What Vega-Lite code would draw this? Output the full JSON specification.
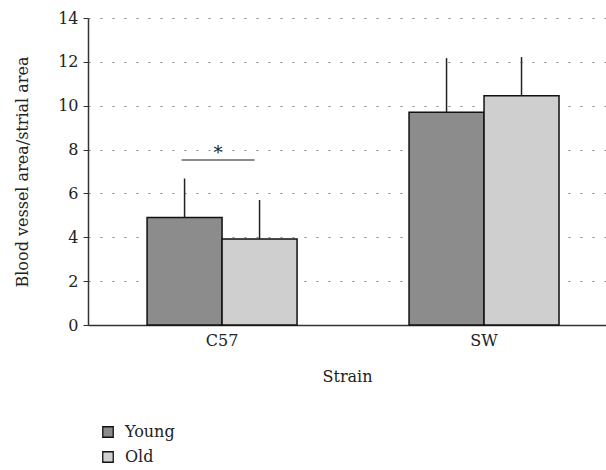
{
  "$schema": "https://vega.github.io/schema/vega-lite/v6.json",
  "autosize": "none",
  "width": 518,
  "height": 307,
  "padding": {"left": 88, "top": 18, "right": 0, "bottom": 145},
  "background": "white",
  "config": {
    "view": {"stroke": null},
    "font": "DejaVu Serif"
  },
  "datasets": {
    "bars": [
      {"strain": "C57", "age": "Young", "mean": 4.9, "upper": 6.68},
      {"strain": "C57", "age": "Old", "mean": 3.92, "upper": 5.7},
      {"strain": "SW", "age": "Young", "mean": 9.7, "upper": 12.17},
      {"strain": "SW", "age": "Old", "mean": 10.45, "upper": 12.22}
    ],
    "sig": [
      {"strain": "C57", "line": 7.52, "star": 7.8, "label": "*"}
    ]
  },
  "layer": [
    {
      "data": {"name": "bars"},
      "mark": {"type": "bar", "stroke": "#111", "strokeWidth": 1.5},
      "encoding": {
        "x": {"field": "strain", "type": "nominal", "title": "Strain",
              "scale": {"domain": ["C57", "SW"], "paddingInner": 0.4275, "paddingOuter": 0.2024, "align": 0.557},
              "axis": {"labelAngle": 0, "ticks": false, "labelPadding": 7, "titlePadding": 20, "domainWidth": 1.5, "domainColor": "#333",
                       "labelFont": "DejaVu Serif", "titleFont": "DejaVu Serif", "labelFontSize": 16, "titleFontSize": 16, "titleFontWeight": "normal", "labelColor": "#222", "titleColor": "#222"}},
        "xOffset": {"field": "age", "type": "nominal", "scale": {"domain": ["Young", "Old"], "paddingInner": 0, "paddingOuter": 0}},
        "y": {"field": "mean", "type": "quantitative", "title": "Blood vessel area/strial area",
              "scale": {"domain": [0, 14], "nice": false},
              "axis": {"values": [0, 2, 4, 6, 8, 10, 12, 14], "tickSize": 5, "labelPadding": 5, "titlePadding": 27, "domainWidth": 1.5, "domainColor": "#333", "tickColor": "#333",
                       "labelFont": "DejaVu Serif", "titleFont": "DejaVu Serif", "labelFontSize": 16, "titleFontSize": 16, "titleFontWeight": "normal", "labelColor": "#222", "titleColor": "#222",
                       "grid": true, "gridDash": [2, 10], "gridColor": "#888", "gridWidth": 1.2}},
        "fill": {"field": "age", "type": "nominal", "title": null,
                 "scale": {"domain": ["Young", "Old"], "range": ["#8c8c8c", "#cfcfcf"]},
                 "legend": {"orient": "none", "legendX": 12, "legendY": 406, "symbolType": "square", "symbolSize": 110, "symbolStrokeColor": "#111", "symbolStrokeWidth": 1.3, "labelFont": "DejaVu Serif", "labelFontSize": 16, "labelColor": "#222", "rowPadding": 9, "labelOffset": 9}}
      }
    },
    {
      "data": {"name": "bars"},
      "mark": {"type": "rule", "color": "#222", "strokeWidth": 1.5},
      "encoding": {
        "x": {"field": "strain", "type": "nominal"},
        "xOffset": {"field": "age", "type": "nominal"},
        "y": {"field": "mean", "type": "quantitative"},
        "y2": {"field": "upper"}
      }
    },
    {
      "data": {"name": "sig"},
      "mark": {"type": "tick", "color": "#222", "thickness": 1.5, "size": 73, "xOffset": -4},
      "encoding": {
        "x": {"field": "strain", "type": "nominal"},
        "y": {"field": "line", "type": "quantitative"}
      }
    },
    {
      "data": {"name": "sig"},
      "mark": {"type": "text", "fontSize": 18, "font": "DejaVu Serif", "color": "#222", "baseline": "middle", "xOffset": -4},
      "encoding": {
        "x": {"field": "strain", "type": "nominal"},
        "y": {"field": "star", "type": "quantitative"},
        "text": {"field": "label"}
      }
    }
  ]
}
